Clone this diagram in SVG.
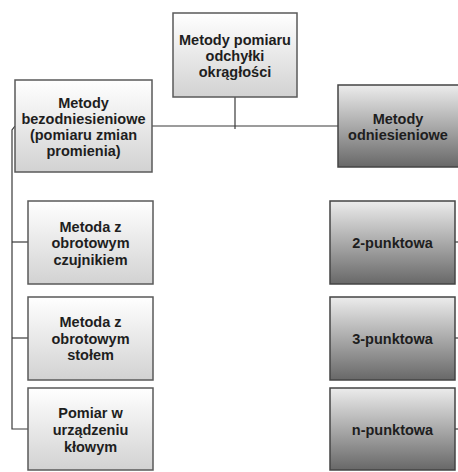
<svg xmlns="http://www.w3.org/2000/svg" width="458" height="472" viewBox="0 0 458 472">
<defs>
<linearGradient id="gl" x1="0" y1="0" x2="0" y2="1">
<stop offset="0" stop-color="#ffffff"/>
<stop offset="1" stop-color="#d2d2d2"/>
</linearGradient>
<linearGradient id="gd" x1="0" y1="0" x2="0" y2="1">
<stop offset="0" stop-color="#ececec"/>
<stop offset="1" stop-color="#686868"/>
</linearGradient>
</defs>
<style>
.bl{fill:url(#gl);stroke:#5a5a5a;stroke-width:1.5}
.bd{fill:url(#gd);stroke:#444;stroke-width:1.5}
.t{font-family:"Liberation Sans",Arial,sans-serif;font-weight:bold;font-size:14.5px;fill:#1e1e1e;text-anchor:middle}
.c{fill:none;stroke:#3a3a3a;stroke-width:1.2}
</style>
<g id="connectors">
<path class="c" d="M235,97 V129"/>
<path class="c" d="M152,126 H338"/>
<path class="c" d="M15,126 L12,130 V429 H28"/>
<path class="c" d="M12,242 H28"/>
<path class="c" d="M12,338 H28"/>
<path class="c" d="M455,242 H458"/>
<path class="c" d="M455,338 H458"/>
<path class="c" d="M455,429 H458"/>
</g>
<g id="root">
<rect class="bl" x="173" y="13" width="124" height="84"/>
<text class="t" x="235" y="45">Metody pomiaru</text>
<text class="t" x="235" y="61">odchyłki</text>
<text class="t" x="235" y="77">okrągłości</text>
</g>
<g id="bezodniesieniowe">
<rect class="bl" x="15" y="80" width="137" height="92"/>
<text class="t" x="83.5" y="108">Metody</text>
<text class="t" x="83.5" y="124">bezodniesieniowe</text>
<text class="t" x="83.5" y="140">(pomiaru zmian</text>
<text class="t" x="83.5" y="156">promienia)</text>
</g>
<g id="odniesieniowe">
<rect class="bd" x="338" y="85" width="124" height="82"/>
<text class="t" x="398" y="124">Metody</text>
<text class="t" x="398" y="140">odniesieniowe</text>
</g>
<g id="czujnik">
<rect class="bl" x="28" y="201" width="125" height="83"/>
<text class="t" x="90.5" y="231.5">Metoda z</text>
<text class="t" x="90.5" y="248">obrotowym</text>
<text class="t" x="90.5" y="264.5">czujnikiem</text>
</g>
<g id="stol">
<rect class="bl" x="28" y="297" width="125" height="83"/>
<text class="t" x="90.5" y="327">Metoda z</text>
<text class="t" x="90.5" y="343.5">obrotowym</text>
<text class="t" x="90.5" y="360">stołem</text>
</g>
<g id="klowe">
<rect class="bl" x="28" y="388" width="125" height="82"/>
<text class="t" x="90.5" y="418">Pomiar w</text>
<text class="t" x="90.5" y="435">urządzeniu</text>
<text class="t" x="90.5" y="452">kłowym</text>
</g>
<g id="p2">
<rect class="bd" x="330" y="201" width="125" height="83"/>
<text class="t" x="392.5" y="247.5">2-punktowa</text>
</g>
<g id="p3">
<rect class="bd" x="330" y="297" width="125" height="83"/>
<text class="t" x="392.5" y="343.5">3-punktowa</text>
</g>
<g id="pn">
<rect class="bd" x="330" y="388" width="125" height="82"/>
<text class="t" x="392.5" y="434.5">n-punktowa</text>
</g>
</svg>
